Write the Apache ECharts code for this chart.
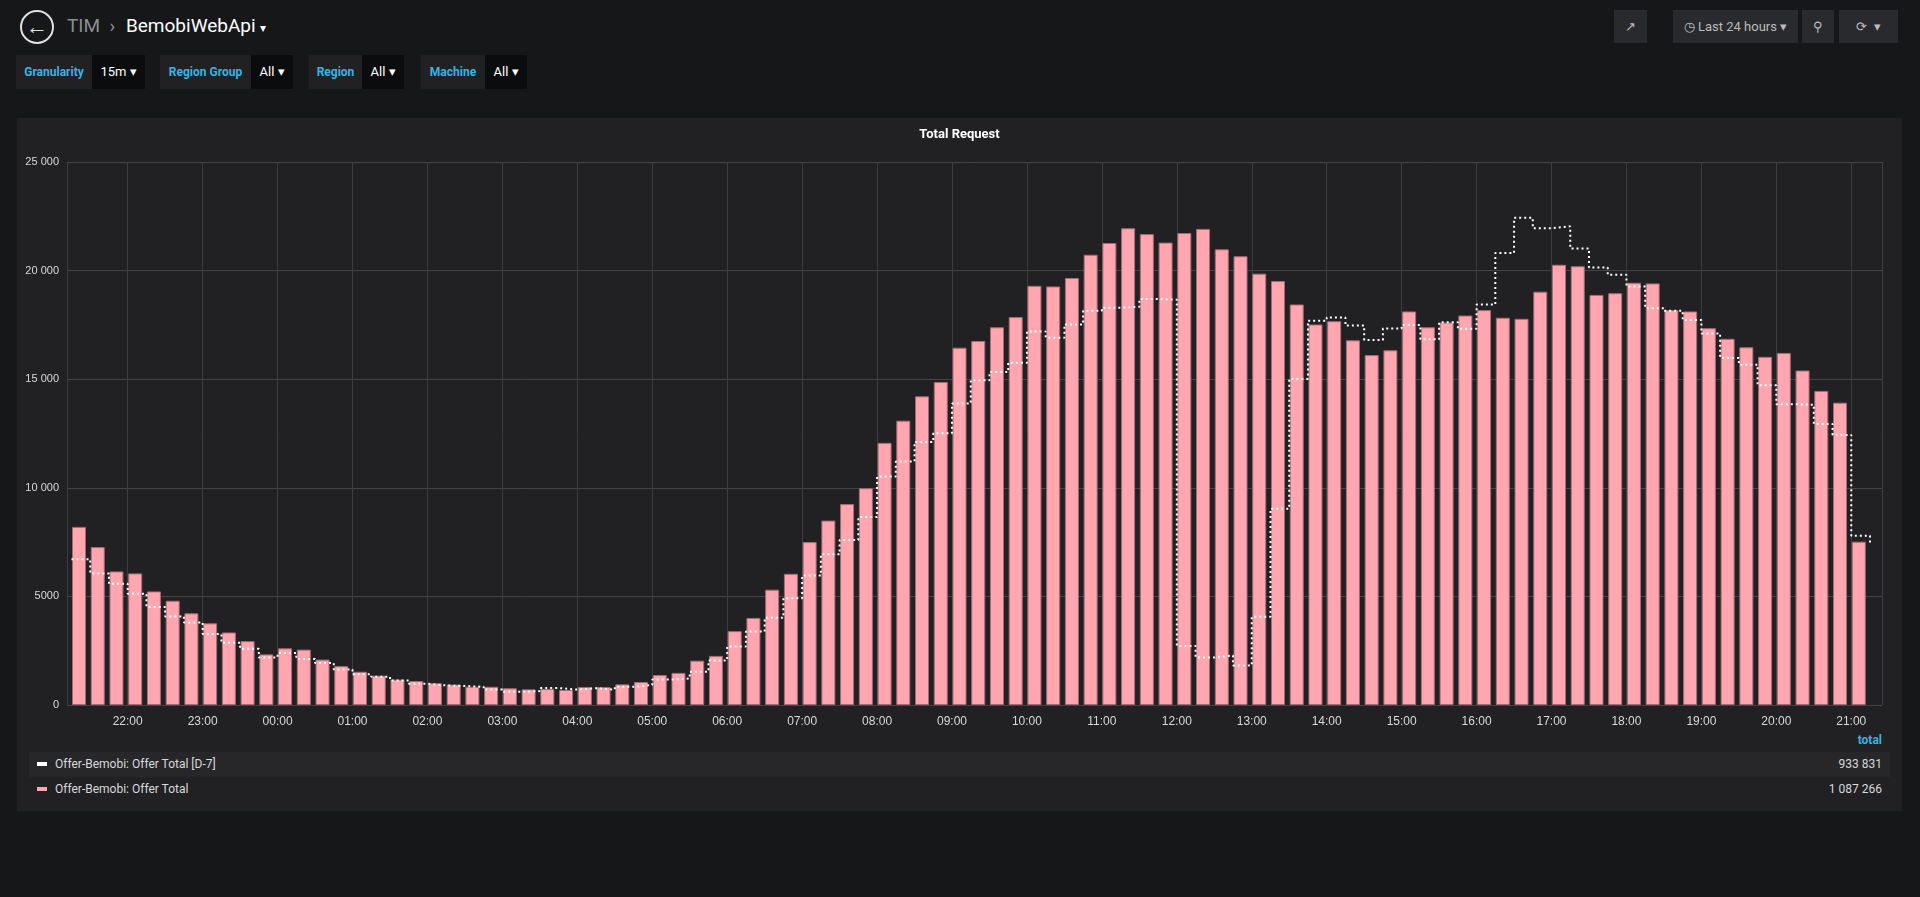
<!DOCTYPE html>
<html>
<head>
<meta charset="utf-8">
<script src="https://cdn.jsdelivr.net/npm/echarts@6/dist/echarts.min.js"></script>
<style>
body{margin:0;width:1920px;height:897px;background:#161719;font-family:Roboto,"Open Sans",sans-serif;overflow:hidden;position:relative;color:#d8d9da}
.abs{position:absolute}
.back{left:20px;top:10px;width:30px;height:30px;border:2px solid #e0e0e0;border-radius:50%;color:#e0e0e0;font-size:22px;line-height:30px;text-align:center;font-weight:bold}
.crumb{left:67px;top:14px;font-size:19px;color:#8e8e8e}
.crumb b{color:#fff;font-weight:normal;margin-left:6px}
.btn{top:10px;height:33px;background:#292a2d;color:#bbb;font-size:13px;line-height:33px;text-align:center}
.vl{top:55px;height:34px;line-height:34px;background:#212124;color:#33b5e5;font-size:12px;font-weight:bold;text-align:center}
.vv{top:55px;height:34px;line-height:34px;background:#0b0c0e;color:#fff;font-size:13px;text-align:center}
#panel{left:17px;top:118px;width:1885px;height:693px;background:#212124}
.leg{left:12px;width:1861px;height:25px;line-height:25px;font-size:12px;color:#d8d9da}
.leg i{display:inline-block;width:10px;height:4px;margin:0 8px 2px 8px;vertical-align:middle}
.leg span{position:absolute;right:8px}
</style>
</head>
<body>
<div class="abs back">&#8592;</div>
<div class="abs crumb">TIM &nbsp;&#8250; <b>BemobiWebApi</b> <span style="color:#fff;font-size:12px">&#9662;</span></div>
<div class="abs btn" style="left:1614px;width:33px">&#8599;</div>
<div class="abs btn" style="left:1673px;width:125px">&#9719; Last 24 hours &#9662;</div>
<div class="abs btn" style="left:1802px;width:32px">&#9906;</div>
<div class="abs btn" style="left:1839px;width:59px">&#10227; &nbsp;&#9662;</div>
<div class="abs vl" style="left:16px;width:76px">Granularity</div><div class="abs vv" style="left:92px;width:53px">15m &#9662;</div>
<div class="abs vl" style="left:160px;width:91px">Region Group</div><div class="abs vv" style="left:251px;width:42px">All &#9662;</div>
<div class="abs vl" style="left:309px;width:53px">Region</div><div class="abs vv" style="left:362px;width:42px">All &#9662;</div>
<div class="abs vl" style="left:421px;width:64px">Machine</div><div class="abs vv" style="left:485px;width:42px">All &#9662;</div>
<div class="abs" id="panel">
  <div id="chart" class="abs" style="left:0;top:0;width:1885px;height:610px"></div>
  <div class="abs" style="right:20px;top:615px;color:#33b5e5;font-size:12px;font-weight:bold">total</div>
  <div class="abs leg" style="top:634px;background:#27272a"><i style="background:#fff"></i>Offer-Bemobi: Offer Total [D-7]<span>933 831</span></div>
  <div class="abs leg" style="top:659px"><i style="background:#ffa6b0"></i>Offer-Bemobi: Offer Total<span>1 087 266</span></div>
</div>
<script>
var startTime = new Date(2018, 0, 1, 21, 15).getTime();
var step = 15 * 60 * 1000;
var offerTotal = [8200,7270,6150,6060,5230,4800,4220,3760,3340,2940,2330,2610,2550,2090,1790,1530,1350,1170,1100,1000,940,840,840,770,720,740,690,830,830,950,1060,1380,
  1480,2040,2260,3400,4010,5310,6040,7500,8490,9250,9980,12070,13090,14210,14870,16450,
  16760,17390,17860,19300,19270,19660,20730,21270,21950,21680,21290,21730,21920,20980,20660,19860,19520,18440,17520,17670,16790,16110,16330,18120,17390,17610,17930,18180,17830,17780,
  19030,20270,20200,18880,18960,19440,19410,18180,18120,17350,16860,16470,16030,16210,15400,14460,13920,7520];
var offerTotalD7 = [6710,6060,5580,5120,4510,4080,3800,3270,2870,2590,2190,2390,2120,1930,1630,1410,1300,1130,980,900,870,840,710,610,640,780,710,770,710,840,920,1170,
  1220,1530,2050,2690,3380,4020,4920,5960,6940,7600,8650,10520,11210,12110,12510,13880,14950,
  15330,15760,17200,16910,17520,18150,18290,18340,18690,18660,2720,2190,2280,1820,4060,9030,15010,17690,17840,17470,16810,17330,17490,16840,17620,17320,18440,20810,22430,21950,22040,
  21020,20140,19810,19270,18270,18150,17720,17100,15980,15670,14720,13850,13820,12940,12430,7790,7420];
var yTicks = [0, 5000, 10000, 15000, 20000, 25000];

var barData = [], lineData = [];
for (var i = 0; i < offerTotal.length; i++) {
	barData.push([startTime + i * step + 6 * 60000, offerTotal[i]]);
}
for (var j = 0; j < offerTotalD7.length; j++) {
	lineData.push([startTime + j * step, offerTotalD7[j]]);
}

function fmtNum(v) {
	if (v < 10000) return String(v);
	return String(v).replace(/\B(?=(\d{3})+(?!\d))/g, ' ');
}

var chart = echarts.init(document.getElementById('chart'));
chart.setOption({
	animation: false,
	title: {
		text: 'Total Request', left: 'center', top: 5,
		textStyle: {color: '#fff', fontSize: 13, fontWeight: 'bold', fontFamily: 'Roboto'}
	},
	grid: {left: 50, right: 20, top: 44, height: 545},
	xAxis: {
		type: 'time',
		min: new Date(2018, 0, 1, 21, 17).getTime(),
		max: new Date(2018, 0, 2, 21, 19).getTime(),
		minInterval: 3600000, maxInterval: 3600000,
		axisLine: {show: false},
		axisTick: {show: false},
		splitLine: {show: true, lineStyle: {color: '#3d3d40', width: 1}},
		axisLabel: {
			color: '#d8d9da', fontSize: 12, margin: 11, hideOverlap: false,
			formatter: function(v) {
				var d = new Date(v);
				return ('0' + d.getHours()).slice(-2) + ':00';
			}
		}
	},
	yAxis: {
		type: 'value', min: yTicks[0], max: yTicks[yTicks.length - 1], interval: 5000,
		axisLine: {show: false}, axisTick: {show: false},
		splitLine: {lineStyle: {color: '#444447'}},
		axisLabel: {color: '#d8d9da', fontSize: 11, margin: 8, formatter: fmtNum}
	},
	series: [{
		name: 'Offer-Bemobi: Offer Total',
		type: 'bar',
		data: barData,
		barWidth: 14,
		itemStyle: {color: '#ffa6b0', borderColor: '#a86a72', borderWidth: 1}
	}, {
		name: 'Offer-Bemobi: Offer Total [D-7]',
		type: 'line',
		step: 'end',
		data: lineData,
		showSymbol: false,
		lineStyle: {color: '#ffffff', width: 2, type: [2, 3]},
		z: 5
	}]
});
</script>
</body>
</html>
